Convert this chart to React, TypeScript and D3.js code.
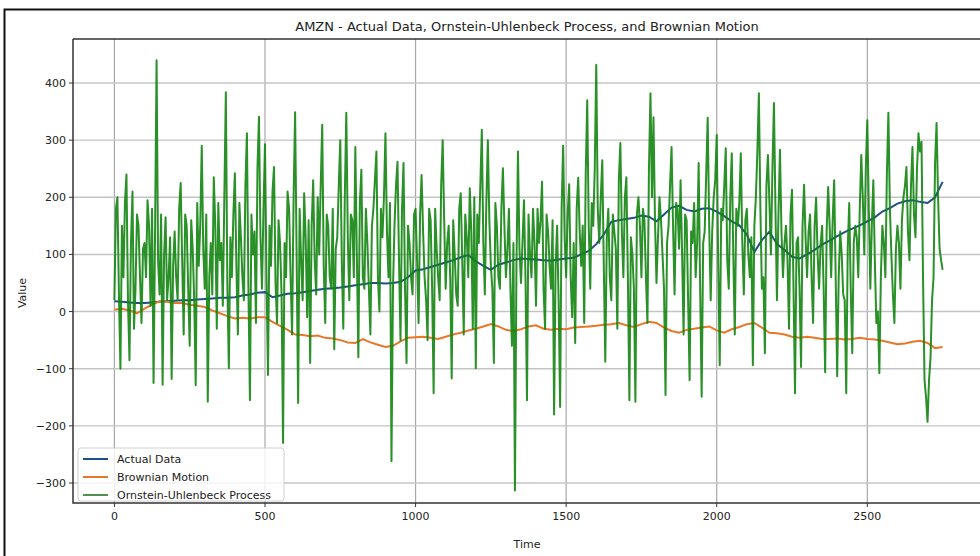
import React, { useEffect, useRef } from "react";
import * as d3 from "d3";

// time steps
const ouStep = 10;
const slowStep = 25;

// Ornstein-Uhlenbeck process at t = 0, 10, 20, ...
const ouValues = [
  20, 200, -100, 60, 240, -85, 210, 40, 150, -20,
  120, 195, 10, -125, 440, 30, -128, 165, 60, -118,
  140, 20, 225, -40, 150, -60, 110, -129, 80, 290,
  40, -158, 120, 235, -30, 90, 10, 384, -99, 60,
  242, -40, 130, 20, 312, -155, 100, -20, 341, 40,
  293, -111, 80, 253, -20, 120, -230, 60, 180, -40,
  349, -160, 90, 207, -10, -90, 230, 30, 100, 327,
  -20, 150, 40, -66, 130, 300, -30, 348, 20, 160,
  288, -80, 248, 40, 120, -40, 180, 280, 0, 130,
  312, 60, -262, 150, 262, -50, 260, -90, 120, 30,
  180, -20, 239, 60, -50, 160, -143, 110, 20, 300,
  40, 150, -117, 100, 10, 207, -40, 130, 216, -30,
  -99, 120, 318, 30, 300, 80, -90, 150, 40, 251,
  60, 180, -60, -313, 280, 50, 195, -155, 100, 180,
  10, 120, 227, -30, 140, 40, -180, 150, -167, 290,
  60, 223, -10, -55, 234, 80, -20, 370, 40, 150,
  432, 120, 265, -88, 180, 20, 140, -30, 295, 60,
  235, -155, 100, -158, 200, 60, 160, -20, 382, 340,
  50, 200, 100, -146, 150, 288, 30, 180, 230, -40,
  160, -120, 120, 60, 260, -149, 140, 339, 20, 200,
  309, -94, 160, 286, 40, 277, -40, 150, 277, 30,
  180, 60, -94, 200, 382, 40, -73, 274, 100, 365,
  20, 283, 60, 150, -30, 213, -143, 130, -97, 222,
  60, 170, -20, 199, 40, 150, -106, 218, 60, 230,
  -113, 140, 30, -143, 190, -73, 150, 60, 274, 100,
  335, 40, 230, -20, -108, 150, 60, 348, 100, -20,
  150, 40, 200, 253, 90, 288, 130, 312, 297, -120,
  -193, -80, 60, 330, 110, 73,
];

// Ornstein-Uhlenbeck process at t = 5, 15, 25, ...
const ouValuesMid = [
  180, 30, 150, 190, 20, 120, -30, 170, 60, 110,
  60, 150, 180, 140, 90, 170, 100, 20, 130, 80,
  60, 180, 90, 170, 40, 160, 20, 190, 150, 110,
  170, 60, 30, 150, 190, 120, 200, 50, 130, 170,
  80, 190, 60, 220, 40, 170, 140, 250, 130, 180,
  60, 150, 210, 50, 160, 30, 120, 210, 60, 200,
  100, 180, 20, 130, 160, 150, 90, 200, 220, 80,
  170, 60, 180, 110, 220, 90, 200, 130, 170, 60,
  100, 190, 60, 180, 40, 150, 230, 60, 180, 200,
  140, 190, 40, 220, 90, 180, 40, 150, 60, 170,
  90, 170, 140, 20, 180, 40, 180, 60, 220, 160,
  120, 60, 160, 30, 180, 90, 170, 60, 140, 200,
  170, 220, 120, 190, 160, 40, 190, 60, 180, 150,
  110, 40, 120, 80, 110, 120, 60, 170, 60, 120,
  180, 160, 40, 170, 80, 160, 80, 20, 180, 130,
  170, 60, 120, 180, 140, 150, 240, 150, 190, 250,
  180, 200, 80, 130, 60, 170, 110, 230, 140, 200,
  60, 130, 40, 170, 150, 180, 60, 250, 200, 160,
  130, 160, 40, 120, 220, 150, 190, 110, 100, 170,
  20, 140, 190, 120, 40, 120, 240, 150, 140, 230,
  80, 180, 220, 90, 200, 100, 180, 190, 120, 160,
  100, 130, 150, 280, 180, 60, 220, 190, 250, 180,
  170, 140, 120, 90, 170, 40, 120, 40, 150, 130,
  140, 60, 150, 100, 120, 40, 140, 150, 160, 60,
  60, 100, 20, 110, 40, 120, 130, 180, 200, 250,
  180, 150, 90, 0, 60, 120, 240, 180, 30, 110,
  120, 160, 220, 140, 220, 170, 250, 280, 60, -150,
  -120, 20, 260, 200, 90,
];

// Actual AMZN data, one value every 25 steps
const actualValues = [
  18, 17, 16, 15, 15, 16, 17, 18, 19, 20, 20, 21, 22, 23, 24, 24,
  25, 28, 30, 33, 34, 25, 28, 31, 32, 34, 36, 38, 40, 41, 42, 44,
  46, 48, 50, 50, 49, 50, 52, 60, 72, 74, 78, 82, 86, 90, 95, 99,
  88, 80, 73, 82, 86, 90, 93, 92, 91, 90, 89, 91, 93, 94, 100, 106,
  118, 135, 157, 160, 162, 164, 168, 166, 158, 170, 182, 185, 178, 175, 180, 181,
  175, 167, 158, 151, 135, 104, 125, 140, 118, 108, 96, 93, 100, 108, 117, 124,
  132, 139, 145, 151, 158, 165, 175, 181, 189, 193, 195, 192, 190, 200, 227,
];

// Brownian motion, one value every 25 steps
const brownianValues = [
  3, 5, 2, -3, 5, 12, 18, 17, 15, 15, 12, 10, 8, 2, -3, -8,
  -12, -11, -12, -10, -10, -18, -25, -32, -40, -41, -43, -42, -46, -47, -50, -54,
  -55, -48, -54, -58, -62, -60, -52, -46, -45, -44, -46, -48, -44, -40, -37, -33,
  -30, -26, -22, -26, -32, -34, -31, -26, -24, -30, -32, -30, -31, -28, -27, -26,
  -25, -23, -22, -20, -24, -27, -22, -18, -20, -28, -34, -37, -32, -30, -28, -26,
  -33, -37, -31, -27, -22, -20, -28, -37, -38, -40, -44, -46, -44, -46, -48, -48,
  -47, -49, -48, -46, -48, -49, -51, -54, -57, -56, -53, -51, -55, -64, -62,
];

const xTicks = [0, 500, 1000, 1500, 2000, 2500];
const yTicks = [-300, -200, -100, 0, 100, 200, 300, 400];

const legendItems = [
  { label: "Actual Data", color: "#1f4e8c" },
  { label: "Brownian Motion", color: "#e8772a" },
  { label: "Ornstein-Uhlenbeck Process", color: "#4f8f4f" },
];

const W = 980;
const H = 556;
const margin = { left: 73, top: 39, right: 984, bottom: 503 };

export default function App() {
  const ref = useRef<SVGSVGElement>(null);

  useEffect(() => {
    const svg = d3.select(ref.current);
    svg.selectAll("*").remove();

    const x = d3.scaleLinear().domain([-137.5, 2887.5]).range([margin.left, margin.right]);
    const y = d3.scaleLinear().domain([-335, 477]).range([margin.bottom, margin.top]);

    // interleave the two OU samplings into one series of [t, value]
    const ou: [number, number][] = [];
    ouValues.forEach((v, i) => {
      ou.push([i * ouStep, v]);
      if (i < ouValuesMid.length) ou.push([i * ouStep + ouStep / 2, ouValuesMid[i]]);
    });

    svg.append("rect").attr("width", W).attr("height", H).attr("fill", "#fff");

    // outer frame
    svg.append("path")
      .attr("d", `M4.5,${H} V9.5 H${W}`)
      .attr("fill", "none")
      .attr("stroke", "#111")
      .attr("stroke-width", 2);

    const g = svg.append("g");

    // grid
    g.selectAll(".gx").data(xTicks).enter().append("line")
      .attr("x1", d => x(d)).attr("x2", d => x(d))
      .attr("y1", margin.top).attr("y2", margin.bottom)
      .attr("stroke", "#a8a8a8").attr("stroke-width", 1.2);
    g.selectAll(".gy").data(yTicks).enter().append("line")
      .attr("x1", margin.left).attr("x2", margin.right)
      .attr("y1", d => y(d)).attr("y2", d => y(d))
      .attr("stroke", "#c4c4c4").attr("stroke-width", 1.4);

    const clip = svg.append("clipPath").attr("id", "plot");
    clip.append("rect")
      .attr("x", margin.left).attr("y", margin.top)
      .attr("width", margin.right - margin.left)
      .attr("height", margin.bottom - margin.top);

    const lineSlow = d3.line<number>()
      .x((_, i) => x(i * slowStep))
      .y(d => y(d));
    const lineOu = d3.line<[number, number]>()
      .x(d => x(d[0]))
      .y(d => y(d[1]));

    const plot = g.append("g").attr("clip-path", "url(#plot)");
    plot.append("path").attr("d", lineSlow(actualValues))
      .attr("fill", "none").attr("stroke", "#1f4e8c").attr("stroke-width", 2);
    plot.append("path").attr("d", lineSlow(brownianValues))
      .attr("fill", "none").attr("stroke", "#e8772a").attr("stroke-width", 2);
    plot.append("path").attr("d", lineOu(ou))
      .attr("fill", "none").attr("stroke", "#12850f").attr("stroke-width", 2)
      .attr("stroke-opacity", 0.9).attr("stroke-linejoin", "round");

    // spines
    g.append("path")
      .attr("d", `M${margin.left},${margin.top} V${margin.bottom} H${margin.right} M${margin.left},${margin.top} H${margin.right}`)
      .attr("fill", "none").attr("stroke", "#333").attr("stroke-width", 1.5);

    const font = "DejaVu Sans, sans-serif";

    // ticks
    g.selectAll(".tx").data(xTicks).enter().append("line")
      .attr("x1", d => x(d)).attr("x2", d => x(d))
      .attr("y1", margin.bottom).attr("y2", margin.bottom + 4)
      .attr("stroke", "#333");
    g.selectAll(".lx").data(xTicks).enter().append("text")
      .attr("x", d => x(d)).attr("y", margin.bottom + 17)
      .attr("text-anchor", "middle").attr("font-family", font)
      .attr("font-size", 11).attr("fill", "#222").text(d => d);
    g.selectAll(".ty").data(yTicks).enter().append("line")
      .attr("x1", margin.left - 4).attr("x2", margin.left)
      .attr("y1", d => y(d)).attr("y2", d => y(d))
      .attr("stroke", "#333");
    g.selectAll(".ly").data(yTicks).enter().append("text")
      .attr("x", margin.left - 7).attr("y", d => y(d) + 4)
      .attr("text-anchor", "end").attr("font-family", font)
      .attr("font-size", 11).attr("fill", "#222")
      .text(d => (d < 0 ? "\u2212" + Math.abs(d) : String(d)));

    // labels
    svg.append("text").attr("x", 527).attr("y", 31)
      .attr("text-anchor", "middle").attr("font-family", font)
      .attr("font-size", 13).attr("fill", "#222")
      .text("AMZN - Actual Data, Ornstein-Uhlenbeck Process, and Brownian Motion");
    svg.append("text").attr("x", 527).attr("y", 548)
      .attr("text-anchor", "middle").attr("font-family", font)
      .attr("font-size", 11).attr("fill", "#222").text("Time");
    svg.append("text")
      .attr("transform", "translate(26,293) rotate(-90)")
      .attr("text-anchor", "middle").attr("font-family", font)
      .attr("font-size", 11).attr("fill", "#222").text("Value");

    // legend
    const lg = svg.append("g").attr("transform", "translate(78,448)");
    lg.append("rect").attr("width", 206).attr("height", 53).attr("rx", 3)
      .attr("fill", "#fff").attr("fill-opacity", 0.8)
      .attr("stroke", "#d0d0d0");
    legendItems.forEach((it, i) => {
      const yy = 11 + i * 18;
      lg.append("line").attr("x1", 5).attr("x2", 30).attr("y1", yy).attr("y2", yy)
        .attr("stroke", it.color).attr("stroke-width", 2);
      lg.append("text").attr("x", 39).attr("y", yy + 4)
        .attr("font-family", font).attr("font-size", 11).attr("fill", "#222")
        .text(it.label);
    });
  }, []);

  return (
    <svg
      ref={ref}
      width={W}
      height={H}
      style={{ position: "absolute", left: 0, top: 0 }}
    />
  );
}
